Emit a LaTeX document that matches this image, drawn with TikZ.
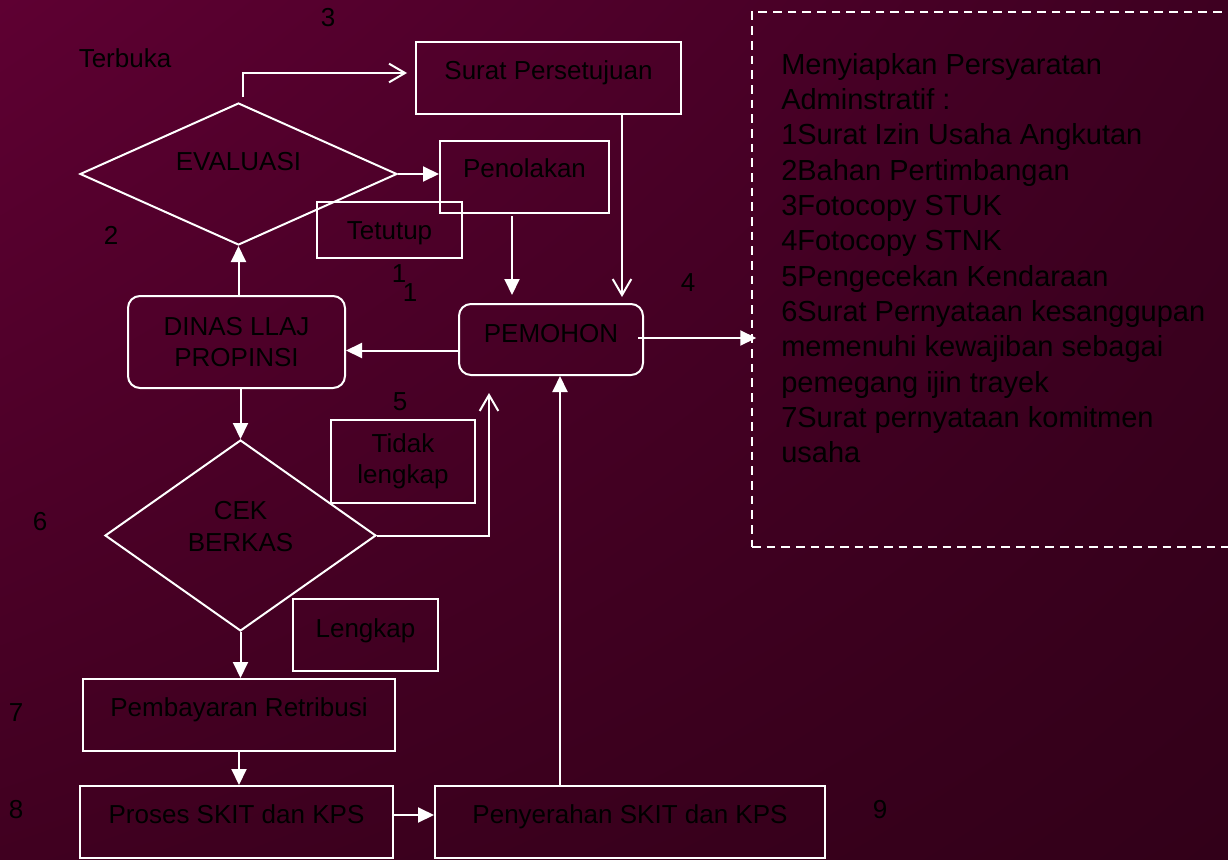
\documentclass[tikz,border=0pt]{standalone}
\usepackage{fontspec}
\setmainfont{Liberation Sans}
\usetikzlibrary{shapes.geometric,arrows.meta,calc,shadings}
\definecolor{bgtl}{RGB}{94,0,50}
\definecolor{bgtr}{RGB}{62,0,33}
\definecolor{bgbl}{RGB}{64,0,32}
\definecolor{bgbr}{RGB}{50,0,25}
\tikzset{
	sz/.style 2 args={minimum width=#1*0.75pt,minimum height=#2*0.75pt},
	box/.style={rectangle,draw=white,line width=1.5pt,align=center},
	rbox/.style={box,rounded corners=9pt},
	dec/.style={diamond,draw=white,line width=1.5pt,inner sep=0pt,aspect=2.2},
	up/.style={text height=14pt,text depth=#1},
	reqbox/.style={rectangle,draw=white,line width=1.1pt,dash pattern=on 6.5pt off 4.5pt,inner sep=0pt},
	arr/.style={draw=white,line width=1.5pt,-{Triangle[length=12pt,width=11.25pt]}},
	barb/.style={draw=white,line width=1.5pt,-{Straight Barb[length=12pt,width=14pt]}}
}
\begin{document}
\begin{tikzpicture}[x=0.75pt,y=-0.75pt,font=\fontsize{19.5}{23.4}\selectfont]
	\useasboundingbox (0,0) rectangle (1228,860);
	\shade[upper left=bgtl,upper right=bgtr,lower left=bgbl,lower right=bgbr] (0,0) rectangle (1228,860);

	\node[box,sz={265}{72},up=12pt] (sp) at (548.5,78) {Surat Persetujuan};
	\node[box,sz={169}{72},up=13.5pt] (pen) at (524.5,177) {Penolakan};
	\node[box,sz={145}{56},up=0pt] (tet) at (389.5,230) {Tetutup};
	\node[dec,sz={317}{142},up=19.5pt] (eva) at (238.5,174) {EVALUASI};
	\node[rbox,sz={217}{92}] (dinas) at (236.5,342) {DINAS LLAJ\\PROPINSI};
	\node[rbox,sz={184}{71},up=9.75pt] (pem) at (551,339.5) {PEMOHON};
	\node[dec,sz={271}{191},label={[align=center,yshift=6.75pt]center:CEK\\BERKAS}] (cek) at (240.5,535.5) {};
	\node[box,sz={144}{83}] (tl) at (403,461.5) {Tidak\\lengkap};
	\node[box,sz={145}{72},up=10.5pt] (lk) at (365.5,635) {Lengkap};
	\node[box,sz={312}{72},up=12pt] (pr) at (239,715) {Pembayaran Retribusi};
	\node[box,sz={313}{72},up=12pt] (ps) at (236.5,822) {Proses SKIT dan KPS};
	\node[box,sz={390}{72},up=12pt] (pn) at (630,822) {Penyerahan SKIT dan KPS};

	% persyaratan
	\node[reqbox,sz={488}{535}] (req) at (996,279.5) {};
	\node[anchor=north west,inner sep=0pt,align=left,font=\fontsize{21.75}{26.5}\selectfont] (reqtext) at (781,53)
		{Menyiapkan Persyaratan\\Adminstratif :\\1Surat Izin Usaha Angkutan\\2Bahan Pertimbangan\\3Fotocopy STUK\\4Fotocopy STNK\\5Pengecekan Kendaraan\\6Surat Pernyataan kesanggupan\\memenuhi kewajiban sebagai\\pemegang ijin trayek\\7Surat pernyataan komitmen\\usaha};

	\node (terbuka) at (125,58) {Terbuka};
	\foreach \nm/\tx/\x/\y in {n3/3/328/18, n2/2/111/235, n1a/1/399/274, n1b/1/410/293, n4/4/688/283,
		n5/5/400/402, n6/6/40/522, n7/7/16/713, n8/8/16/810, n9/9/880/810}
		\node (\nm) at (\x,\y) {\tx};

	\coordinate (t3) at (407,73);
	\coordinate (t5) at (489,393);
	\draw[barb] ($(eva.north)+(4,-5)$) |- (t3);
	\draw[arr] (eva.east) -- (eva.east -| pen.west);
	\draw[arr] (dinas.north -| eva.south) -- (eva.south);
	\draw[arr] ($(pen.south)+(-12.5,2)$) -- ($(pem.north)+(-39,-8)$);
	\draw[barb] ($(sp.south)+(73.5,0)$) -- ($(pem.north)+(71,-6)$);
	\draw[arr] ($(pem.east)+(-6,-1.5)$) -- ($(req.west |- pem.east)+(5,-1.5)$);
	\draw[arr] ($(pem.west)+(0,11)$) -- ($(dinas.east |- pem.west)+(0,11)$);
	\draw[arr] (dinas.south -| cek.north) -- (cek.north);
	\draw[barb] (cek.east) -| (t5);
	\draw[arr] (cek.south) -- (cek.south |- pr.north);
	\draw[arr] (pr.south) -- (pr.south |- ps.north);
	\draw[arr] ($(ps.east)+(0,-7)$) -- ($(pn.west)+(0,-7)$);
	\draw[arr] ($(pn.north)+(-70,0)$) -- ($(pem.south)+(9,0)$);
%	\draw[red] (0,0) grid[step=100] (1228,860);
\end{tikzpicture}
\end{document}
